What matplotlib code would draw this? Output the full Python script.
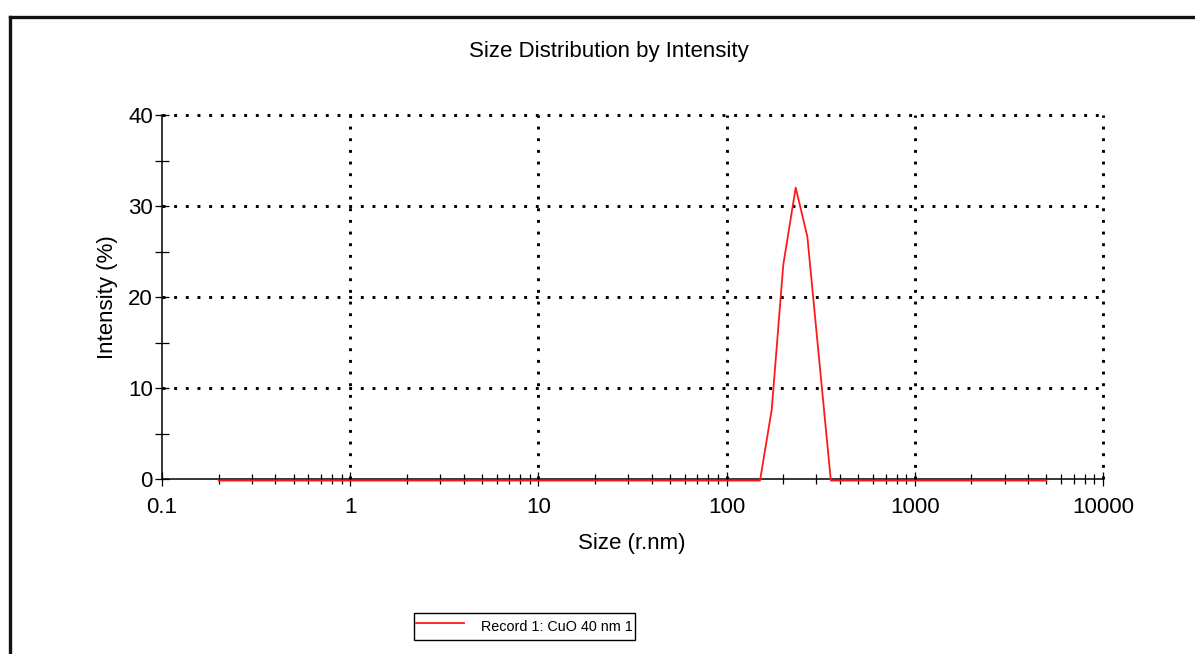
import matplotlib
matplotlib.use("Agg")
import matplotlib.pyplot as plt
from matplotlib.lines import Line2D
from matplotlib.ticker import FixedLocator, NullFormatter
from matplotlib.transforms import offset_copy

plt.rcParams['font.family'] = ['Liberation Sans', 'DejaVu Sans']

#%% Data
size_rnm = [0.2, 150.5, 173.7, 200.0, 232.9, 268.6, 310.0, 358.0, 5000.0]
intensity_pct = [0.0, 0.0, 7.8, 23.7, 32.2, 26.8, 13.4, 0.0, 0.0]

x_major = [0.1, 1, 10, 100, 1000, 10000]
x_labels = ["0.1", "1", "10", "100", "1000", "10000"]
y_major = [0, 10, 20, 30, 40]
y_minor = [5, 15, 25, 35]
record_name = "Record 1: CuO 40 nm 1"

#%% Figure
W, H = 1195, 654
fig = plt.figure(figsize=(W / 100, H / 100), dpi=100)
ax = fig.add_axes([162 / W, 1 - 479 / H, 941 / W, 364 / H])

# red trace sits just under the black axis line, like the instrument export
shifted = offset_copy(ax.transData, fig=fig, x=0, y=-1.6, units="dots")
line, = ax.plot(size_rnm, intensity_pct, color="#ff1a1a", lw=1.3, clip_on=False,
                zorder=4, transform=shifted)

ax.set_xscale("log")
ax.set_xlim(x_major[0], x_major[-1])
ax.set_ylim(y_major[0], y_major[-1])

ax.xaxis.set_major_locator(FixedLocator(x_major))
ax.set_xticklabels(x_labels)
minors = [m * d for d in x_major[:-1] for m in range(2, 10)]
ax.xaxis.set_minor_locator(FixedLocator(minors))
ax.xaxis.set_minor_formatter(NullFormatter())
ax.yaxis.set_major_locator(FixedLocator(y_major))
ax.yaxis.set_minor_locator(FixedLocator(y_minor))

ax.tick_params(axis="x", which="major", direction="inout", length=10, width=0.9, pad=8, labelsize=16)
ax.tick_params(axis="x", which="minor", direction="inout", length=7, width=0.9)
ax.tick_params(axis="y", which="both", direction="inout", length=10, width=0.9, pad=1.5, labelsize=16)

for s in ["top", "right"]:
    ax.spines[s].set_visible(False)
for s in ["left", "bottom"]:
    ax.spines[s].set_linewidth(1.1)
    ax.spines[s].set_zorder(3)

# dotted grid (also forms top / right edges)
for xv in x_major[1:]:
    ax.axvline(xv, color="black", lw=2.1, linestyle=(0, (1, 3)), clip_on=False, zorder=1)
for yv in y_major[1:]:
    ax.axhline(yv, color="black", lw=2.1, linestyle=(0, (1, 3)), clip_on=False, zorder=1)

fig.text(609 / W, 1 - 52 / H, "Size Distribution by Intensity", ha="center", va="center", fontsize=16)
fig.text(632 / W, 1 - 544 / H, "Size (r.nm)", ha="center", va="center", fontsize=16)
fig.text(108 / W, 1 - 297 / H, "Intensity (%)", ha="center", va="center", rotation=90, fontsize=16)

leg = fig.legend([line], [record_name], loc="center", bbox_to_anchor=(524.5 / W, 1 - 626.5 / H),
                 fancybox=False, framealpha=1, edgecolor="black", handlelength=3.3,
                 handleheight=2.1, fontsize=10.4, borderpad=0.15, handletextpad=1.2,
                 borderaxespad=0)
leg.get_frame().set_linewidth(1.0)

# outer page border (left and top edges visible)
fig.add_artist(Line2D([9.5 / W, 9.5 / W], [0, 1 - 16.5 / H], color="#111111", lw=2.4,
                      transform=fig.transFigure, solid_capstyle="projecting"))
fig.add_artist(Line2D([9.5 / W, 1], [1 - 16.5 / H, 1 - 16.5 / H], color="#111111", lw=2.4,
                      transform=fig.transFigure, solid_capstyle="projecting"))

fig.savefig("out.png", dpi=100)
